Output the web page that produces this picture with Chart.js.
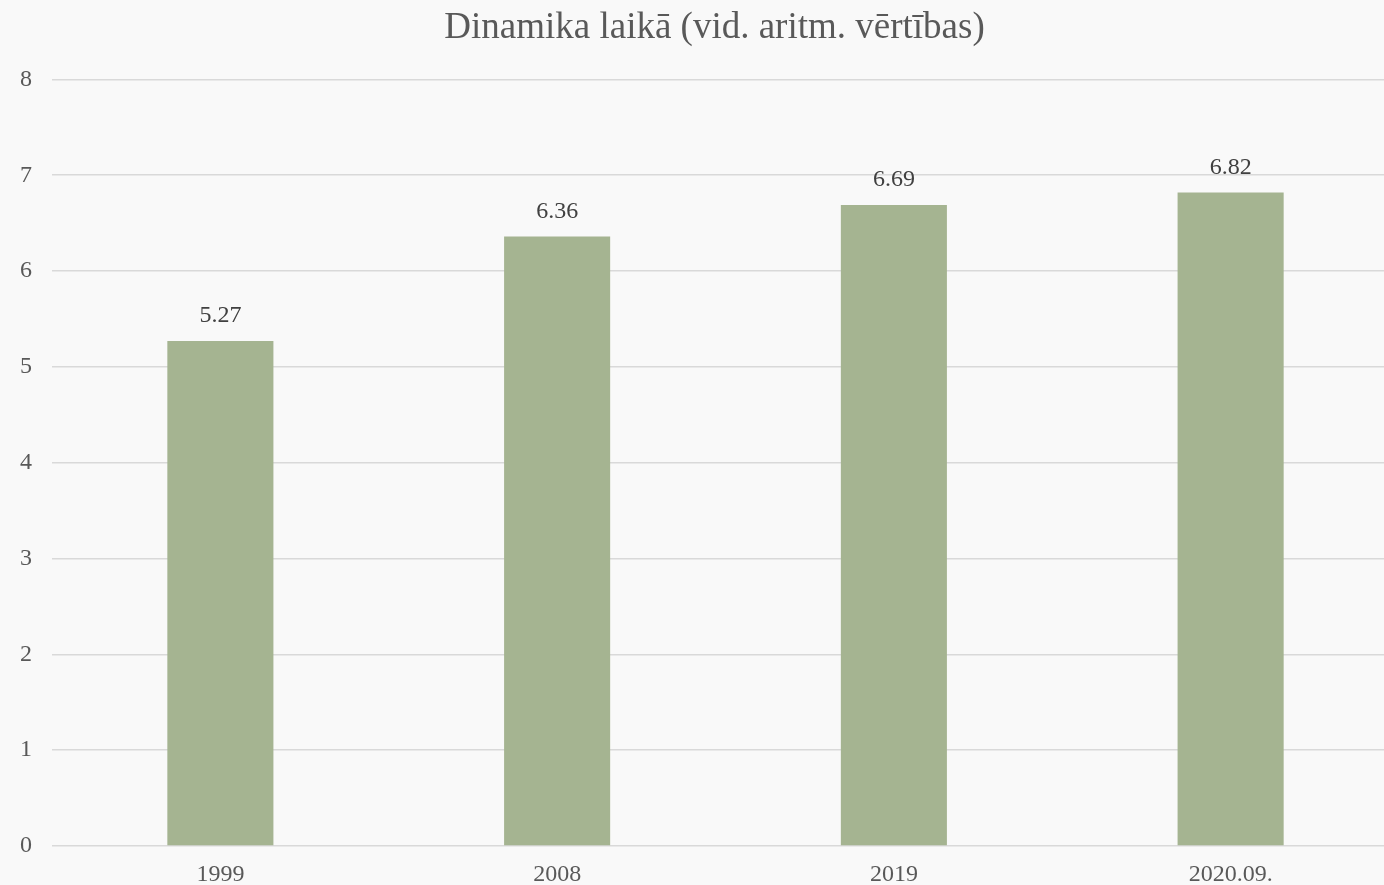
<!DOCTYPE html>
<html>
<head>
<meta charset="utf-8">
<script src="https://cdn.jsdelivr.net/npm/chart.js@4"></script>
<style>
  html, body { margin: 0; padding: 0; background: #f9f9f9; overflow: hidden; }
  #wrap { position: relative; width: 1430px; height: 885px; }
</style>
</head>
<body>
<div id="wrap"><canvas id="BarChart"></canvas></div>
<script>
const categories = ['1999', '2008', '2019', '2020.09.'];
const averages = [5.27, 6.36, 6.69, 6.82];
const yTicks = [0, 1, 2, 3, 4, 5, 6, 7, 8];

const serif = '"Liberation Serif", "Times New Roman", serif';

// draws the value above each bar
const valueLabels = {
  id: 'valueLabels',
  afterDatasetsDraw(chart) {
    const ctx = chart.ctx;
    const meta = chart.getDatasetMeta(0);
    ctx.save();
    ctx.font = '24px ' + serif;
    ctx.fillStyle = '#404040';
    ctx.textAlign = 'center';
    ctx.textBaseline = 'middle';
    meta.data.forEach((bar, i) => {
      ctx.fillText(averages[i].toFixed(2), bar.x, bar.y - 25);
    });
    ctx.restore();
  }
};

// nudge the title so it sits where the original had it
const titleShift = {
  id: 'titleShift',
  afterLayout(chart) {
    if (chart.titleBlock) {
      chart.titleBlock.left += 15;
      chart.titleBlock.right += 15;
    }
  }
};

const ctx = document.getElementById('BarChart');
new Chart(ctx, {
  type: 'bar',
  data: {
    labels: categories,
    datasets: [{
      label: 'Vid. aritm.',
      data: averages,
      backgroundColor: '#a5b491',
      categoryPercentage: 1,
      barPercentage: 0.315
    }]
  },
  options: {
    responsive: true,
    maintainAspectRatio: false,
    animation: false,
    layout: { padding: { left: 0, right: 31, top: 0, bottom: -11 } },
    plugins: {
      legend: { display: false },
      tooltip: { enabled: false },
      title: {
        display: true,
        text: 'Dinamika laikā (vid. aritm. vērtības)',
        color: '#595959',
        font: { family: serif, size: 37, weight: 'normal' },
        padding: { top: 6, bottom: 29 }
      }
    },
    scales: {
      x: {
        grid: { display: false },
        border: { display: false },
        ticks: { color: '#595959', font: { family: serif, size: 24, lineHeight: 1 }, padding: 9 }
      },
      y: {
        min: 0,
        max: 8,
        afterBuildTicks(axis) { axis.ticks = yTicks.map(v => ({ value: v })); },
        grid: { color: '#d9d9d9', lineWidth: 1.5, drawTicks: false },
        border: { display: false },
        ticks: { color: '#595959', font: { family: serif, size: 24 }, padding: 20 }
      }
    }
  },
  plugins: [valueLabels, titleShift]
});
</script>
</body>
</html>
